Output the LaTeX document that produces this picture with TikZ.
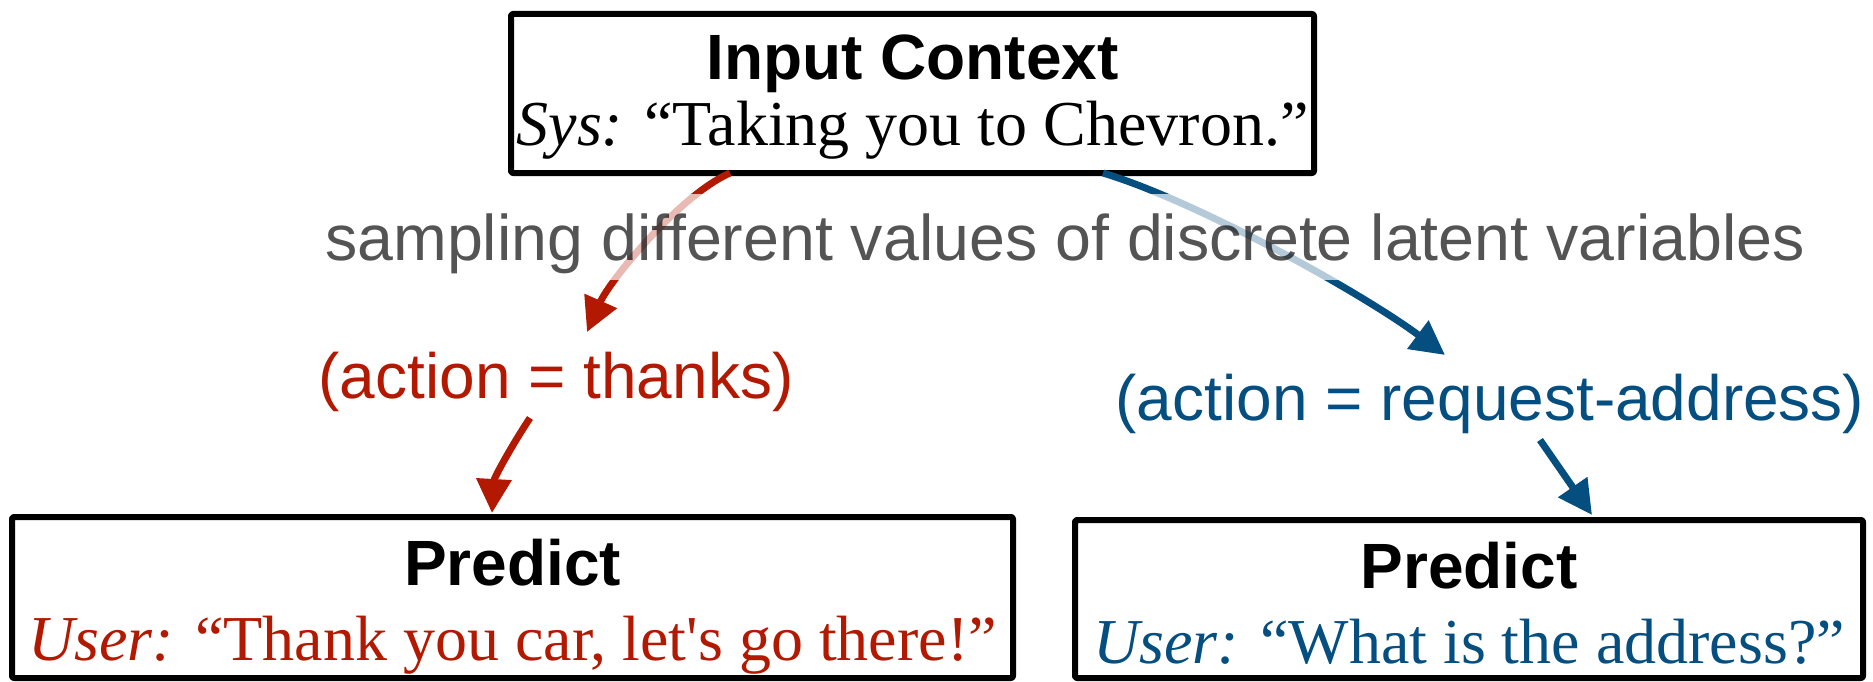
\documentclass[tikz,border=0pt]{standalone}
\usepackage{fontspec}
\setmainfont{Liberation Serif}[Ligatures=TeXOff]
\setsansfont{Liberation Sans}
\usetikzlibrary{arrows.meta}
\definecolor{myred}{RGB}{179,24,0}
\definecolor{myblue}{RGB}{4,78,128}
\begin{document}
\begin{tikzpicture}[x=1pt,y=-1pt,
  box/.style={draw=black, line width=6pt, line join=round, rounded corners=2pt, inner sep=0pt},
  title/.style={font=\sffamily\bfseries\fontsize{64}{70}\selectfont, anchor=base, inner sep=0pt},
  quote/.style={font=\fontsize{64}{70}\selectfont, anchor=base, inner sep=0pt},
  act/.style={font=\sffamily\fontsize{64}{70}\selectfont, anchor=base, inner sep=0pt},
  arr/.style={line width=7pt, -{Triangle[length=34pt,width=34pt]}},
]
\useasboundingbox (0,0) rectangle (1873,682);

% boxes
\node[box, minimum width=803pt, minimum height=159pt] (ctx) at (912.5,93.5) {};
\node[box, minimum width=1001pt, minimum height=161pt] (predL) at (512.5,597.5) {};
\node[box, minimum width=788pt, minimum height=158pt] (predR) at (1469,599) {};

% texts in boxes
\node[title] (ctxT) at (912.5,80) {Input Context};
\node[quote] (ctxQ) at (912.5,146) {\textit{Sys:} “Taking you to Chevron.”};
\node[title] (predLT) at (512.5,585) {Predict};
\node[quote, text=myred] (predLQ) at (512.5,660) {\textit{User:} “Thank you car, let's go there!”};
\node[title] (predRT) at (1469,588) {Predict};
\node[quote, text=myblue] (predRQ) at (1469,663) {\textit{User:} “What is the address?”};

% action labels
\node[act, text=myred] (ra) at (556,398) {(action = thanks)};
\node[act, text=myblue] (ba) at (1490,420) {(action = request-address)};

% connector end points
\coordinate (r1s) at (730,173);
\coordinate (r1e) at (587,332);
\coordinate (r2s) at (530,418);
\coordinate (r2e) at (492,513);
\coordinate (b1s) at (1103,173);
\coordinate (b1e) at (1445,355);
\coordinate (b2s) at (1540,440);
\coordinate (b2e) at (1592,515);

% arrows
\draw[arr, myred] (r1s) .. controls (680,195) and (610,280) .. (r1e);
\draw[arr, myred] (r2s) .. controls (512,445) and (494,478) .. (r2e);
\draw[arr, myblue] (b1s) .. controls (1199,202) and (1365,295) .. (b1e);
\draw[arr, myblue] (b2s) -- (b2e);

% sampling label over the arrows
\node[font=\sffamily\fontsize{64.5}{70}\selectfont, anchor=base, fill=white, fill opacity=0.7,
      text=black, text opacity=0.67, inner xsep=8pt, inner ysep=0pt,
      text height=66pt, text depth=20pt] (samp) at (1065,260)
      {sampling different values of discrete latent variables};
\end{tikzpicture}
\end{document}
